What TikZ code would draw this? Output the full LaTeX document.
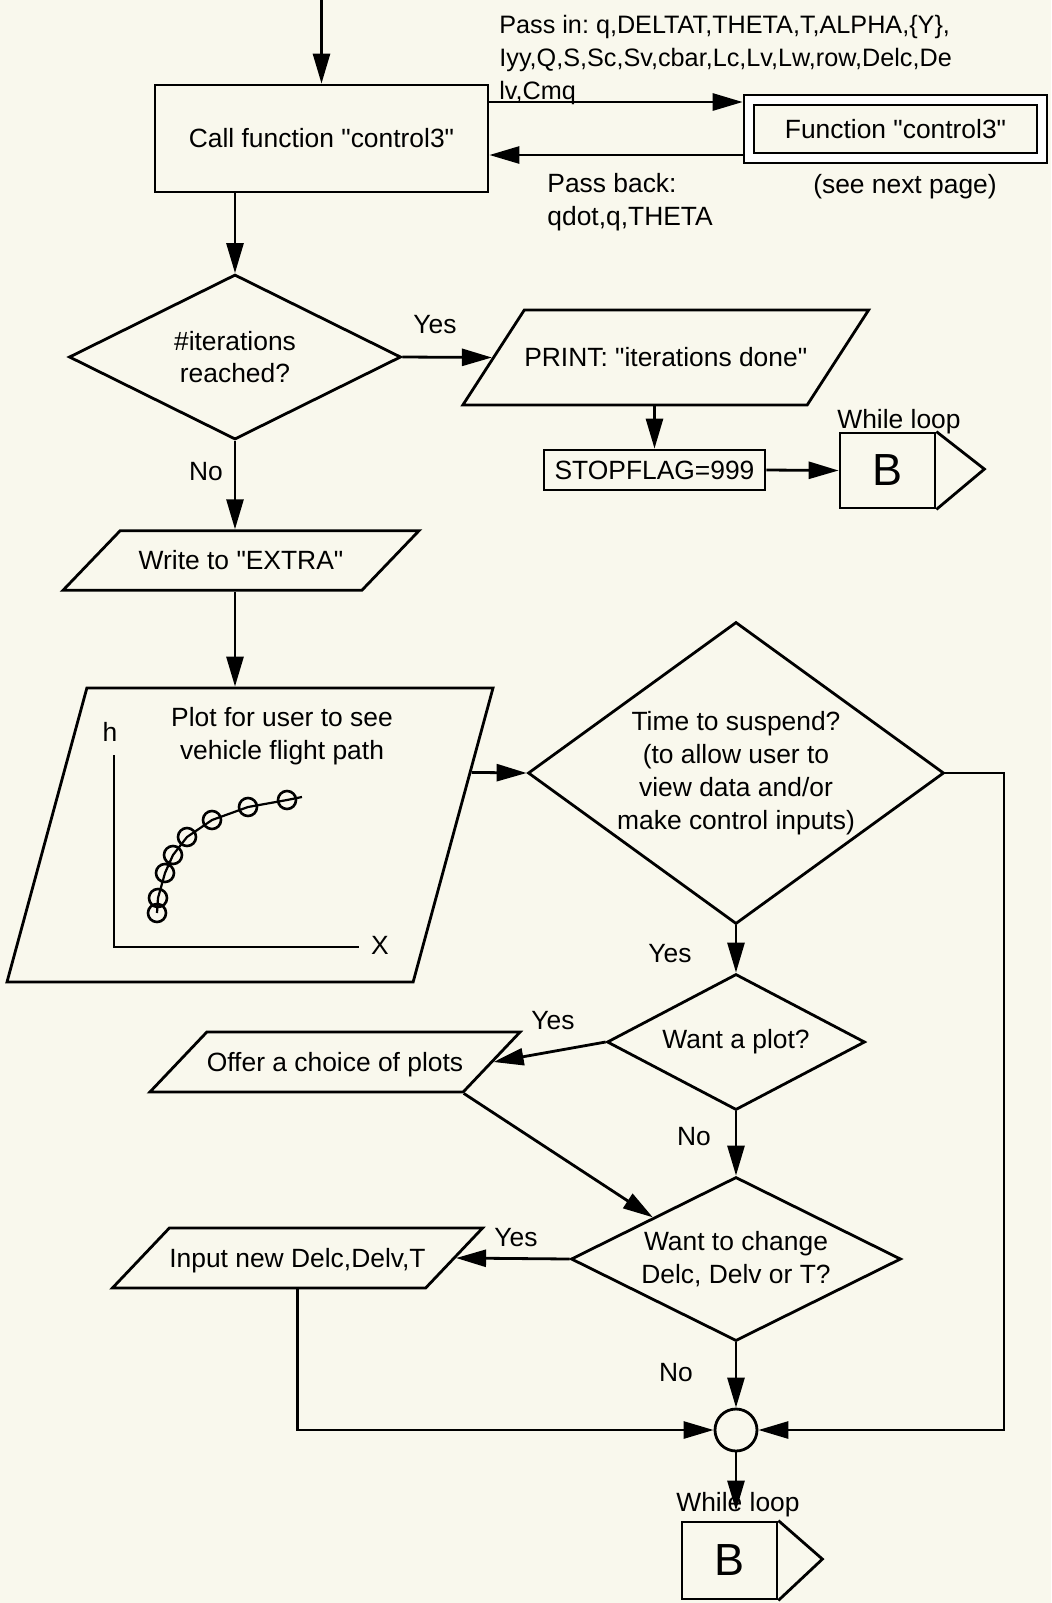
\documentclass[tikz,border=0pt]{standalone}
\usepackage{fontspec}
\setmainfont{Liberation Sans}
\usetikzlibrary{shapes.geometric,arrows.meta,calc}
\definecolor{paper}{RGB}{249,248,237}
\newcommand{\qt}{\textquotedbl}
\frenchspacing
\begin{document}
\begin{tikzpicture}[x=0.5pt, y=-0.5pt, line width=1.4pt,
    font=\fontsize{13.2pt}{16.4pt}\selectfont,
    box/.style={draw, rectangle, fill=paper, inner sep=0pt},
    dec/.style={draw, diamond, fill=paper, inner sep=0pt, align=center},
    io/.style={draw, trapezium, trapezium stretches body, fill=paper, inner sep=0pt, align=center},
    arr/.style={-{Triangle[length=15pt, width=8.5pt]}},
    lbl/.style={inner sep=0pt},
    bconn/.style={draw, rectangle, fill=paper, inner sep=0pt, minimum width=47.5pt, font=\fontsize{22.5pt}{24pt}\selectfont}]
    \fill[paper] (0,0) rectangle (1051,1603);
    \useasboundingbox (0,0) rectangle (1051,1603);
    % call and function
    \node[box, minimum width=166.5pt, minimum height=53.5pt] (call) at (321.5,138.5) {Call function \qt control3\qt};
    \node[box, double, double distance=3.7pt, line width=1.3pt, outer sep=3.15pt, minimum width=146.5pt, minimum height=29pt] (fn) at (895.5,129) {Function \qt control3\qt};
    \node[lbl, anchor=west, align=left, font=\fontsize{12.6pt}{16.4pt}\selectfont] (passin) at (498,60) {Pass in: q,DELTAT,THETA,T,ALPHA,\{Y\},\\Iyy,Q,S,Sc,Sv,cbar,Lc,Lv,Lw,row,Delc,De\\lv,Cmq};
    \node[lbl, anchor=west, align=left] (passback) at (546,202) {Pass back:\\qdot,q,THETA};
    \node[lbl] (seenext) at (905,187) {(see next page)};
    \coordinate (entry) at (321.5,0);
    \coordinate (passinrow) at (0,102);
    \coordinate (passbackrow) at (0,155);
    % iterations test
    \node[dec, aspect=2, minimum width=166pt, minimum height=82.5pt] (iter) at (235,357) {\#iterations\\reached?};
    \node[io, trapezium left angle=57.1, trapezium right angle=122.9, minimum width=190.25pt, text height=28.25pt, text depth=19.25pt] (print) at (665.75,357.5) {PRINT: \qt iterations done\qt};
    \node[box, minimum width=110.5pt, minimum height=20pt] (stopflag) at (654.5,470) {STOPFLAG=999};
    \node[bconn, minimum height=37.5pt] (loopB1) at (887.5,470.5) {B};
    \draw (loopB1.north east) -- ++(48,37.5) -- (loopB1.south east);% pointer
    \node[lbl] (wl1) at (899,422) {While loop};
    \node[io, trapezium left angle=46.2, trapezium right angle=133.8, minimum width=178pt, text height=19.4pt, text depth=10.4pt] (write) at (241,560.5) {Write to \qt EXTRA\qt};
    % plot window
    \node[io, trapezium left angle=74.8, trapezium right angle=105.2, minimum width=243pt, text height=73.5pt, text depth=73.5pt] (plotbox) at (250,835) {};
    \node[lbl, align=center] (plottitle) at (282,736) {Plot for user to see\\vehicle flight path};
    \node[lbl] (haxis) at (110,732) {h};
    \node[lbl] (xaxis) at (380,945) {X};
    \draw[line width=1.2pt] (114,755) -- (114,947) -- (359,947);
    \draw[line width=1.1pt] plot coordinates {(157,913) (158,898) (165,873) (173,855) (187,837) (212,820) (248,807) (287,800) (302,797)};
    \foreach \p in {(157,913),(158,898),(165,873),(173,855),(187,837),(212,820),(248,807),(287,800)}
        \draw[line width=1.3pt] \p circle[radius=4.5pt];
    % suspend branch
    \node[dec, aspect=1.38, minimum width=208pt, minimum height=151pt] (suspend) at (736,773) {Time to suspend?\\(to allow user to\\view data and/or\\make control inputs)};
    \node[dec, aspect=1.9, minimum width=129pt, minimum height=68pt] (plotq) at (736,1042) {Want a plot?};
    \node[io, trapezium left angle=46.5, trapezium right angle=133.5, minimum width=180pt, text height=19.5pt, text depth=10.5pt] (offer) at (335,1062) {Offer a choice of plots};
    \node[dec, aspect=2, minimum width=165pt, minimum height=82pt] (change) at (736,1259) {Want to change\\Delc, Delv or T?};
    \node[io, trapezium left angle=46.5, trapezium right angle=133.5, minimum width=179.5pt, text height=19.5pt, text depth=10.5pt] (newinput) at (297.5,1258) {Input new Delc,Delv,T};
    \node[draw, circle, fill=paper, minimum size=21pt, inner sep=0pt] (merge) at (736,1430) {};
    \node[bconn, minimum height=38.5pt] (loopB2) at (729.5,1560.5) {B};
    \draw (loopB2.north east) -- ++(44,38.5) -- (loopB2.south east);% pointer
    \coordinate (rail) at (1004,773);
    % connectors
    \draw[arr] (entry) -- (call.north);
    \draw[arr] (call.east |- passinrow) -- (fn.west |- passinrow);
    \draw[arr] (fn.west |- passbackrow) -- (call.east |- passbackrow);
    \draw[arr] (call.south -| iter.north) -- (iter.north);
    \draw[arr] (iter.east) -- (print.west);
    \draw[arr] (print.south -| stopflag.north) -- (stopflag.north);
    \draw[arr] (stopflag.east) -- (loopB1.west);
    \draw[arr] (iter.south) -- (iter.south |- write.north);
    \draw[arr] (write.south -| iter.south) -- (plotbox.north -| iter.south);
    \draw[arr] ($(plotbox.top right corner)!0.289!(plotbox.bottom right corner)$) -- (suspend.west);
    \draw[arr] (suspend.east) -- (rail) |- (merge.east);
    \draw[arr] (suspend.south) -- (plotq.north);
    \draw[arr] (plotq.west) -- (offer.east);
    \draw[arr] (offer.bottom right corner) -- (change.north west);
    \draw[arr] (plotq.south) -- (change.north);
    \draw[arr] (change.west) -- (newinput.east);
    \draw[arr] (newinput.south) |- (merge.west);
    \draw[arr] (change.south) -- (merge.north);
    \draw[arr, shorten >=5pt] (merge.south) -- (merge.south |- loopB2.north);
    \node[lbl] (wl2) at (738,1505) {While loop};
    % branch labels
    \node[lbl] (yes1) at (435,325) {Yes};
    \node[lbl] (no1) at (206,472) {No};
    \node[lbl] (yes2) at (670,954) {Yes};
    \node[lbl] (yes3) at (553,1021) {Yes};
    \node[lbl] (no2) at (694,1137) {No};
    \node[lbl] (yes4) at (516,1238) {Yes};
    \node[lbl] (no3) at (676,1373) {No};
\end{tikzpicture}
\end{document}
